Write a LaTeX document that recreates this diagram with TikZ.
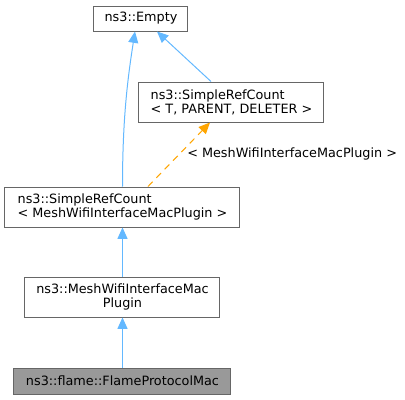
\documentclass[tikz,border=0pt]{standalone}
\usepackage{fontspec}
\setmainfont{DejaVu Sans}
\usetikzlibrary{arrows.meta,calc}
\definecolor{edgeblue}{HTML}{63B8FF}
\definecolor{edgeorange}{HTML}{FFA500}
\definecolor{boxborder}{HTML}{666666}
\definecolor{boxgray}{HTML}{999999}
\begin{document}
\begin{tikzpicture}[x=0.75pt,y=-0.75pt,
  font=\fontsize{9.6}{10.5}\selectfont,
  cls/.style={draw=boxborder,line width=0.75pt,fill=white,inner sep=0pt,minimum height=#1*0.75pt},
  cls/.default=40,
  inh/.style={draw=edgeblue,line width=0.75pt,-{Triangle[length=8.5pt,width=7.5pt,fill=edgeblue]}},
  tmpl/.style={draw=edgeorange,line width=0.75pt,dashed,dash pattern=on 5pt off 4pt,-{Triangle[length=8.5pt,width=7.5pt,fill=edgeorange]}}]
\useasboundingbox (0,0) rectangle (405,400);
\node[cls=25,minimum width=94*0.75pt] (empty) at (141,18.5) {ns3::Empty};
\node[cls,minimum width=185*0.75pt,align=left] (srct) at (231.5,102) {ns3::SimpleRefCount\\< T, PARENT, DELETER >};
\node[cls,minimum width=235*0.75pt,align=left] (srcm) at (122.5,207) {ns3::SimpleRefCount\\< MeshWifiInterfaceMacPlugin >};
\node[cls,minimum width=195*0.75pt,align=center] (plug) at (122.5,297) {ns3::MeshWifiInterfaceMac\\Plugin};
\node[cls=26,minimum width=217*0.75pt,fill=boxgray] (flame) at (122.5,381) {ns3::flame::FlameProtocolMac};
\draw[inh] (srcm.north) .. controls ($(srcm.north)+(0,-70)$) and ($(empty.south)+(-13,45)$) .. ($(empty.south)+(-6,0)$);
\draw[inh] ($(srct.north)+(-20.5,0)$) -- ($(empty.south)+(16,0)$);
\draw[tmpl] ($(srcm.north)+(25.5,0)$) -- ($(srct.south)+(-21.5,0)$);
\node[anchor=west,inner sep=0pt] (lbl) at (187,154) {< MeshWifiInterfaceMacPlugin >};
\draw[inh] (plug.north) -- (srcm.south);
\draw[inh] (flame.north) -- (plug.south);
\end{tikzpicture}
\end{document}
